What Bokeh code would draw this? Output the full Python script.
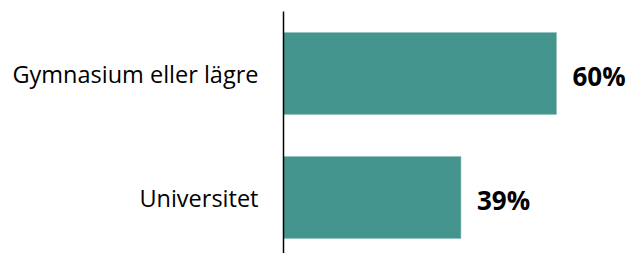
from bokeh.plotting import figure
from bokeh.models import Range1d, FixedTicker, ColumnDataSource
from bokeh.core.properties import value
from bokeh.embed import file_html
from bokeh.resources import INLINE

categories = ["Gymnasium eller lägre", "Universitet"]
shares = [60, 39]
share_labels = ["60%", "39%"]

ypos = [1, 0]
src = ColumnDataSource(dict(y=ypos, v=shares, lab=share_labels, cat=categories))

p = figure(width=633, height=253, output_backend="svg", toolbar_location=None,
           x_range=Range1d(0, 350 / 4.55), y_range=Range1d(-0.4516, 1.5),
           min_border_left=283, min_border_right=0, min_border_top=11, min_border_bottom=0)
p.outline_line_color = None
p.xgrid.visible = False
p.ygrid.visible = False
p.xaxis.visible = False
p.background_fill_color = "white"
p.border_fill_color = "white"

p.hbar(y="y", right="v", left=0, height=0.661, source=src,
       fill_color="#45958F", line_color="#8DC0BC", line_width=0.6)

p.text(x="v", y="y", text="lab", source=src, x_offset=16, y_offset=2,
       text_font=value("Open Sans"), text_font_style="bold", text_font_size="26px",
       text_baseline="middle", text_align="left", text_color="black")

ax = p.yaxis[0]
ax.ticker = FixedTicker(ticks=ypos)
ax.major_label_overrides = {y: c for y, c in zip(ypos, categories)}
ax.major_tick_line_color = None
ax.minor_tick_line_color = None
ax.axis_line_color = "black"
ax.axis_line_width = 1.5
ax.major_label_standoff = 19
ax.major_label_text_font = "Open Sans"
ax.major_label_text_font_size = "23.5px"
ax.major_label_text_color = "black"

open("out.html", "w").write(file_html(p, INLINE))
